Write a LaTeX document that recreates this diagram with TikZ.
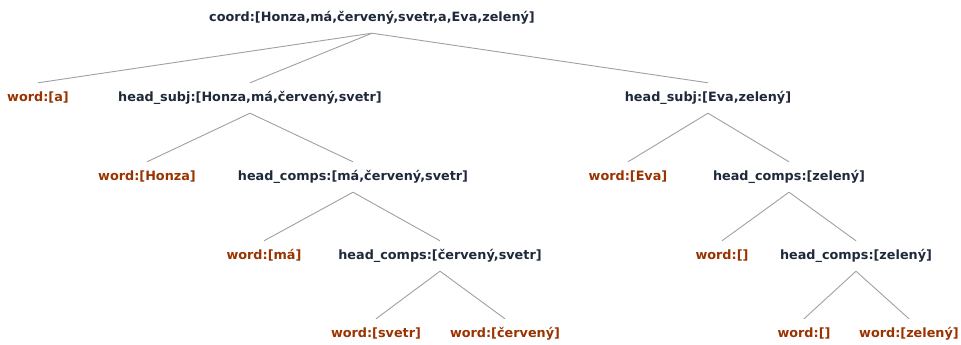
\documentclass[tikz,border=0pt]{standalone}
\usepackage{fontspec}
\setmainfont{DejaVu Sans}
\usepackage{tikz}
\usetikzlibrary{positioning}
\definecolor{headcol}{HTML}{1E2A3A}
\definecolor{wordcol}{HTML}{993300}
\definecolor{edgecol}{HTML}{A0A0A0}
\tikzset{
  % --- Strom: uzly ---------------------------------------------
  phrase/.style={font=\fontsize{12.8}{14}\selectfont\bfseries, text=headcol,
    text height=10pt, text depth=3pt, minimum height=30pt, inner sep=0pt},
  word/.style={phrase, text=wordcol},
  % --- Strom: hrany --------------------------------------------
  edge/.style={draw=edgecol, line width=0.9pt}
}
\begin{document}
\begin{tikzpicture}[x=1pt, y=-1pt]
  \useasboundingbox (0,0) rectangle (961,345);

  % --- Koren -----------------------------------------------------
  \node[phrase] (coord) at (372,18) {coord:[Honza,má,červený,svetr,a,Eva,zelený]};

  % --- Hladina 1 ---------------------------------------------------
  \node[word]   (wA)  at (38,98)  {word:[a]};
  \node[phrase] (hsL) at (250,98) {head\_subj:[Honza,má,červený,svetr]};
  \node[phrase] (hsR) at (708,98) {head\_subj:[Eva,zelený]};

  % --- Hladina 2 ---------------------------------------------------
  \node[word]   (wHonza) at (147,177) {word:[Honza]};
  \node[phrase] (hcL)    at (353,177) {head\_comps:[má,červený,svetr]};
  \node[word]   (wEva)   at (628,177) {word:[Eva]};
  \node[phrase] (hcZ)    at (789,177) {head\_comps:[zelený]};

  % --- Hladina 3 ---------------------------------------------------
  \node[word]   (wMa)  at (264,256) {word:[má]};
  \node[phrase] (hcC)  at (440,256) {head\_comps:[červený,svetr]};
  \node[word]   (wE1)  at (722,256) {word:[]};
  \node[phrase] (hcZZ) at (856,256) {head\_comps:[zelený]};

  % --- Hladina 4 ---------------------------------------------------
  \node[word] (wSvetr)   at (376,334) {word:[svetr]};
  \node[word] (wCerveny) at (505,334) {word:[červený]};
  \node[word] (wE2)      at (804,334) {word:[]};
  \node[word] (wZeleny)  at (909,334) {word:[zelený]};

  % --- Hrany -------------------------------------------------------
  \draw[edge] (coord.south) -- (wA.north);
  \draw[edge] (coord.south) -- (hsL.north);
  \draw[edge] (coord.south) -- (hsR.north);
  \draw[edge] (hsL.south) -- (wHonza.north);
  \draw[edge] (hsL.south) -- (hcL.north);
  \draw[edge] (hsR.south) -- (wEva.north);
  \draw[edge] (hsR.south) -- (hcZ.north);
  \draw[edge] (hcL.south) -- (wMa.north);
  \draw[edge] (hcL.south) -- (hcC.north);
  \draw[edge] (hcZ.south) -- (wE1.north);
  \draw[edge] (hcZ.south) -- (hcZZ.north);
  \draw[edge] (hcC.south) -- (wSvetr.north);
  \draw[edge] (hcC.south) -- (wCerveny.north);
  \draw[edge] (hcZZ.south) -- (wE2.north);
  \draw[edge] (hcZZ.south) -- (wZeleny.north);

\end{tikzpicture}
\end{document}
